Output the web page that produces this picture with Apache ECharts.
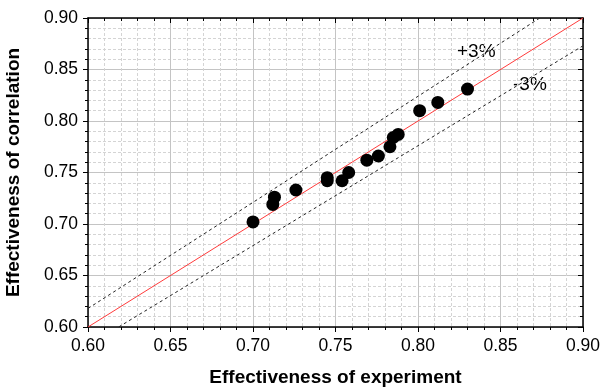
<!DOCTYPE html>
<html>
<head>
<meta charset="utf-8">
<script src="https://cdn.jsdelivr.net/npm/echarts@6/dist/echarts.min.js"></script>
<style>html,body{margin:0;padding:0;background:#fff;}#c{width:604px;height:388px;}</style>
</head>
<body>
<div id="c"></div>
<script>
// Data
const expX = [0.700, 0.713, 0.712, 0.726, 0.745, 0.745, 0.754, 0.758, 0.769, 0.776, 0.783, 0.785, 0.788, 0.801, 0.812, 0.830];
const corrY = [0.702, 0.726, 0.719, 0.733, 0.745, 0.742, 0.742, 0.750, 0.762, 0.766, 0.775, 0.784, 0.787, 0.810, 0.818, 0.831];
const refX = [0.6, 0.9];
const bandFactors = [1.03, 0.97];
const bandLabels = ['+3%', '-3%'];
const xTicks = ['0.60','0.65','0.70','0.75','0.80','0.85','0.90'];

const FONT = 'Liberation Sans, Arial, sans-serif';
const chart = echarts.init(document.getElementById('c'), null, {renderer: 'canvas'});

function mainAxis(name, isX) {
  return {
    type: 'value', min: 0.6, max: 0.9, interval: 0.05,
    position: isX ? 'bottom' : 'left',
    name: name, nameLocation: 'middle', nameGap: isX ? 41 : 65,
    nameTextStyle: {fontFamily: FONT, fontWeight: 'bold', fontSize: 19, color: '#000'},
    axisLine: {show: true, onZero: false, lineStyle: {color: '#000', width: 1.5}},
    axisTick: {show: true, inside: false, length: 5, lineStyle: {color: '#000', width: 1}},
    minorTick: {show: true, splitNumber: 5, length: 3, lineStyle: {color: '#000', width: 1}},
    axisLabel: {fontFamily: FONT, fontSize: 17.5, color: '#000', margin: 10,
      formatter: v => v.toFixed(2)},
    splitLine: {show: true, lineStyle: {color: '#c4c4c4', width: 1}},
    minorSplitLine: {show: true, lineStyle: {color: '#d4d4d4', width: 1, type: [3, 2]}}
  };
}
function mirrorAxis(isX) {
  return {
    type: 'value', min: 0.6, max: 0.9, interval: 0.05,
    position: isX ? 'top' : 'right',
    axisLine: {show: true, onZero: false, lineStyle: {color: '#000', width: 1.5}},
    axisTick: {show: true, inside: true, length: 5, lineStyle: {color: '#000', width: 1}},
    minorTick: {show: true, splitNumber: 5, length: 3, lineStyle: {color: '#000', width: 1}},
    axisLabel: {show: false},
    splitLine: {show: false}, minorSplitLine: {show: false}
  };
}

const series = [];
bandFactors.forEach((f, i) => {
  series.push({
    type: 'line', data: refX.map(x => [x, x * f]), symbol: 'none', clip: true,
    lineStyle: {color: '#222', width: 1, type: [3, 3]}, silent: true, z: 2
  });
});
series.push({
  type: 'line', data: refX.map(x => [x, x]), symbol: 'none', clip: true,
  lineStyle: {color: '#ff3b3b', width: 1}, silent: true, z: 3
});
series.push({
  type: 'scatter', data: expX.map((x, i) => [x, corrY[i]]), symbolSize: 13,
  itemStyle: {color: '#000', opacity: 1}, z: 5
});

chart.setOption({
  animation: false,
  grid: {left: 88, right: 21, top: 18, bottom: 61, containLabel: false, outerBoundsMode: 'none'},
  xAxis: [mainAxis('Effectiveness of experiment', true), mirrorAxis(true)],
  yAxis: [mainAxis('Effectiveness of correlation', false), mirrorAxis(false)],
  series: series,
  graphic: [
    {type: 'text', left: 457, top: 42, style: {text: bandLabels[0], font: '19px ' + FONT, fill: '#000'}},
    {type: 'text', left: 513, top: 75, style: {text: bandLabels[1], font: '19px ' + FONT, fill: '#000'}}
  ]
});
</script>
</body>
</html>
